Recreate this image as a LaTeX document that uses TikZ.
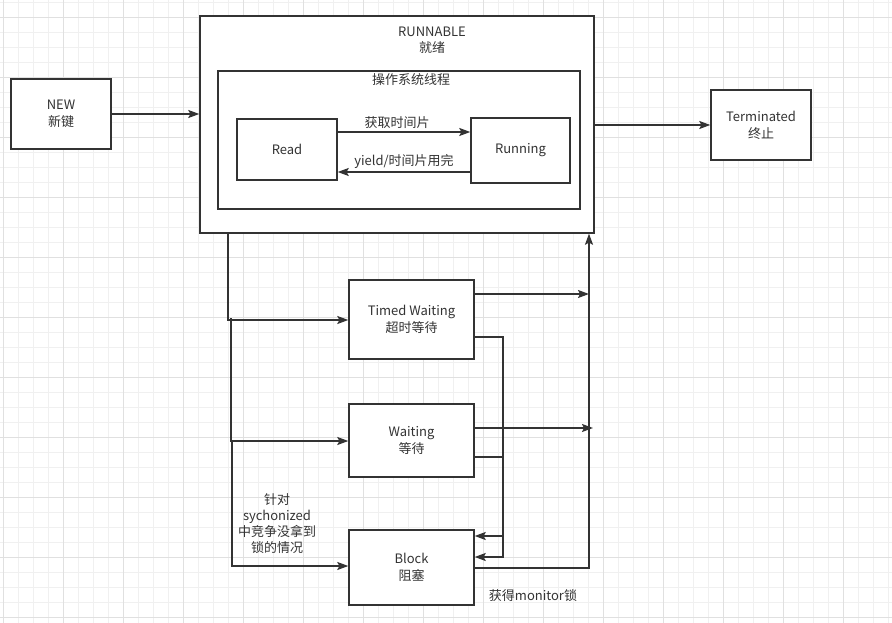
\documentclass[tikz,border=0pt]{standalone}
\usepackage{fontspec}
\setmainfont{Noto Sans CJK SC}
\usetikzlibrary{arrows.meta, positioning, calc}

\definecolor{linecol}{HTML}{333333}
\definecolor{gridminor}{HTML}{F0F0F0}
\definecolor{gridmajor}{HTML}{E0E0E0}

\begin{document}
\begin{tikzpicture}[
    x=1pt, y=-1pt,
    state/.style={rectangle, draw=linecol, line width=1.4pt, fill=white,
                  inner sep=0pt, align=center, text=linecol,
                  font=\fontsize{13}{17}\selectfont},
    lbl/.style={inner sep=0pt, align=center, text=linecol,
                font=\fontsize{13}{16}\selectfont},
    arrow/.style={-{Stealth[length=11pt, width=8pt, inset=2pt]},
                  line width=1.4pt, draw=linecol},
]
\useasboundingbox (0,0) rectangle (892,623);

% grid paper
\foreach \gx in {3,18,...,888}
    \draw[gridminor, line width=0.8pt] (\gx,0) -- (\gx,623);
\foreach \gy in {2,17,...,617}
    \draw[gridminor, line width=0.8pt] (0,\gy) -- (892,\gy);
\foreach \gx in {3,63,...,843}
    \draw[gridmajor, line width=0.8pt] (\gx,0) -- (\gx,623);
\foreach \gy in {17,77,...,617}
    \draw[gridmajor, line width=0.8pt] (0,\gy) -- (892,\gy);

% NEW
\node[state, minimum width=100pt, minimum height=70pt] (new) at (61,114) {NEW\\新键};

% RUNNABLE with the OS thread inside
\node[state, minimum width=394pt, minimum height=217pt] (runnable) at (397,124.5) {};
\node[lbl] (runnablelbl) at (432,40) {RUNNABLE\\就绪};
\node[state, minimum width=362pt, minimum height=138pt] (osthread) at (399,140) {};
\node[lbl, below=3pt of osthread.north, xshift=12pt] (osthreadlbl) {操作系统线程};
\node[state, minimum width=100pt, minimum height=61pt] (read) at (287,149.5) {Read};
\node[state, minimum width=99pt, minimum height=65pt] (running) at (520.5,150.5) {Running};

% Terminated
\node[state, minimum width=100pt, minimum height=70pt] (term) at (761,125) {Terminated\\终止};

% waiting states
\node[state, minimum width=125pt, minimum height=79pt] (timed) at (411.5,319.5) {Timed Waiting\\超时等待};
\node[state, minimum width=125pt, minimum height=73pt] (waiting) at (411.5,440.5) {Waiting\\等待};
\node[state, minimum width=125pt, minimum height=75pt] (block) at (411.5,567.5) {Block\\阻塞};

% arrows between the main states
\draw[arrow] (new.east |- 0,114) -- (runnable.west |- 0,114);
\draw[arrow] (runnable.east |- 0,125) -- (term.west |- 0,125);
\draw[arrow] (read.east |- 0,132) -- node[lbl, above=3pt, xshift=-7pt] {获取时间片} (running.west |- 0,132);
\draw[arrow] (running.west |- 0,172) -- node[lbl, above=3pt] {yield/时间片用完} (read.east |- 0,172);

% from RUNNABLE down to the waiting states
\coordinate (leftbus) at (228,320);
\draw[arrow] (runnable.south -| leftbus) -- (leftbus) -- (timed.west |- leftbus);
\draw[arrow] (231,318) -- (231,441) -- (waiting.west |- 0,441);
\draw[arrow] (232,441) -- (232,566) -- (block.west |- 0,566);
\node[lbl] (synclbl) at (277,524) {针对\\sychonized\\中竞争没拿到\\锁的情况};

% back to RUNNABLE
\coordinate (rightbus) at (589,568);
\draw[arrow] (timed.east |- 0,294) -- (rightbus |- 0,294);
\draw[arrow] (waiting.east |- 0,428) -- (593,428);
\draw[arrow] (block.east |- rightbus) -- (rightbus) -- (rightbus |- runnable.south);
\node[lbl] (monitorlbl) at (533,596) {获得monitor锁};

% waiting states into Block
\draw[arrow] (timed.east |- 0,337) -- (503,337) -- (503,557) -- (block.east |- 0,557);
\draw[arrow] (waiting.east |- 0,457) -- (503,457) -- (503,536) -- (block.east |- 0,536);

\end{tikzpicture}
\end{document}
